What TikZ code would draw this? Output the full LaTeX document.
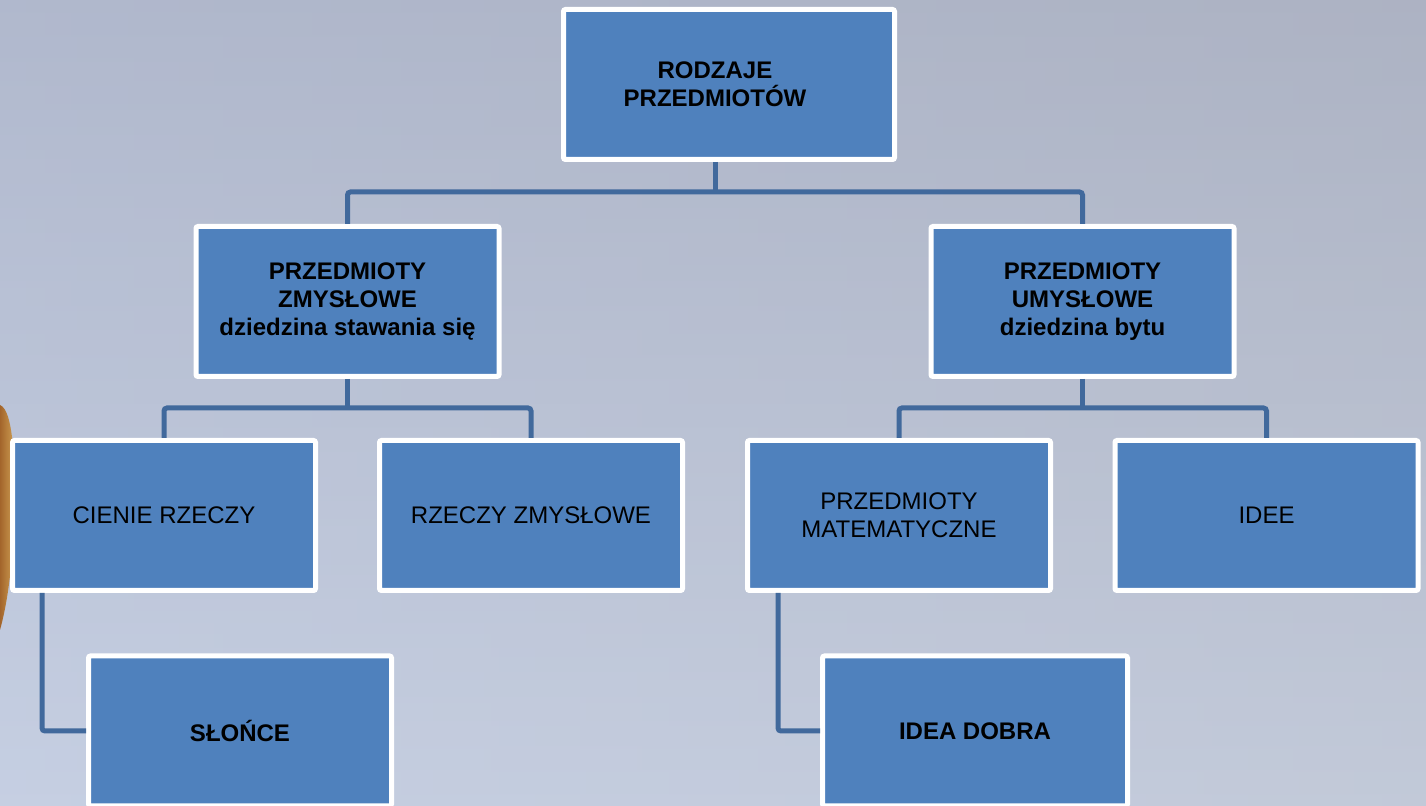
\documentclass[tikz,border=0pt]{standalone}
\usepackage{fontspec}
\setmainfont{Liberation Sans}
\usetikzlibrary{positioning, backgrounds}
\definecolor{boxblue}{HTML}{4F81BD}
\definecolor{linkblue}{HTML}{41699C}
\definecolor{bgtop}{HTML}{A5ACC1}
\definecolor{bgbottom}{HTML}{C6CFE2}
\definecolor{bgleft}{HTML}{C6D0E4}
\definecolor{bgright}{HTML}{BCC0C8}
\definecolor{goldA}{HTML}{A3652B}
\definecolor{goldB}{HTML}{D2A457}

\begin{document}
\begin{tikzpicture}[x=0.5pt, y=-0.5pt,
  box/.style={rectangle, rounded corners=1pt, draw=white, line width=2.5pt, fill=boxblue, align=center, inner sep=2pt, minimum width=151.5pt, minimum height=75pt, font=\fontsize{12}{14}\selectfont},
  bigbox/.style={box, font=\fontsize{12}{14}\selectfont\bfseries},
  link/.style={draw=linkblue, line width=2.5pt, rounded corners=1.5pt}]
\useasboundingbox (0,0) rectangle (1426,806);
\shade[top color=bgtop, bottom color=bgbottom] (0,0) rectangle (1426,806);
\shade[left color=bgleft, right color=bgright, opacity=0.35] (0,0) rectangle (1426,806);
\shade[left color=goldA, right color=goldB] (0,405) .. controls (14,410) and (16,470) .. (14,525) .. controls (12,570) and (7,605) .. (0,630) -- cycle;

% boxes
\node[bigbox, minimum width=165.5pt] (root) at (729,84.5) {RODZAJE\hspace*{14pt}\\PRZEDMIOTÓW\hspace*{14pt}};
\node[bigbox] (zmysl) at (347.5,301.5) {PRZEDMIOTY\\ZMYSŁOWE\\dziedzina stawania się};
\node[bigbox] (umysl) at (1082.5,301.5) {PRZEDMIOTY\\UMYSŁOWE\\dziedzina bytu};
\node[box] (cienie) at (164,515.5) {CIENIE RZECZY};
\node[box] (rzeczy) at (531,515.5) {RZECZY ZMYSŁOWE};
\node[box] (matem) at (899,515.5) {PRZEDMIOTY\\MATEMATYCZNE};
\node[box] (idee) at (1266.5,515.5) {IDEE};
\node[bigbox] (slonce) at (240,731) {SŁOŃCE};
\node[bigbox, minimum width=152.5pt] (dobra) at (975,731) {IDEA DOBRA};

% connectors
\coordinate (bus1) at (715,192);
\coordinate (bus2) at (347.5,408);
\coordinate (bus3) at (1082.5,408);
\draw[link] (root.south -| bus1) -- (bus1);
\draw[link] (zmysl.north) -- (zmysl.north |- bus1) -- (umysl.north |- bus1) -- (umysl.north);
\draw[link] (zmysl.south) -- (bus2);
\draw[link] (cienie.north) -- (cienie.north |- bus2) -- (rzeczy.north |- bus2) -- (rzeczy.north);
\draw[link] (umysl.south) -- (bus3);
\draw[link] (matem.north) -- (matem.north |- bus3) -- (idee.north |- bus3) -- (idee.north);
\draw[link] ([xshift=16pt]cienie.south west) |- (slonce.west);
\draw[link] ([xshift=16.5pt]matem.south west) |- (dobra.west);
\end{tikzpicture}
\end{document}
